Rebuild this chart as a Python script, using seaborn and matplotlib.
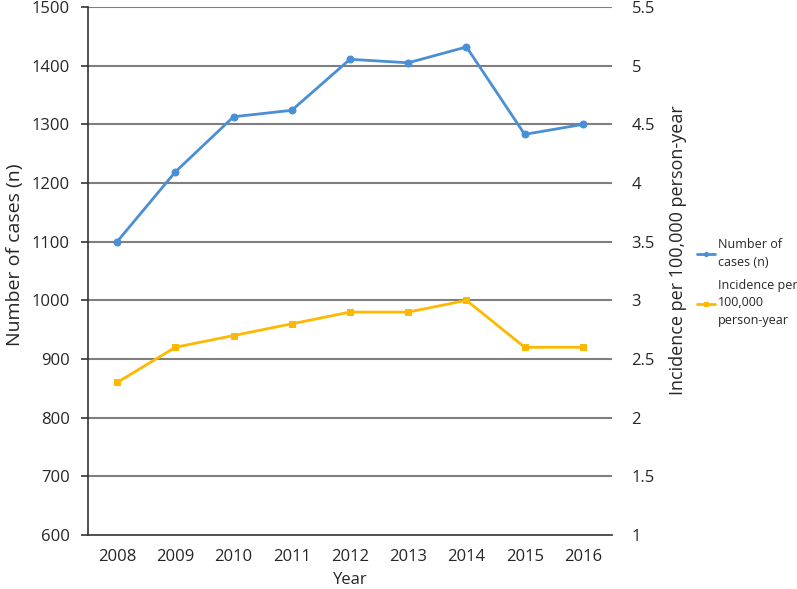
import numpy as np
import pandas as pd
import matplotlib
matplotlib.use('Agg')
import matplotlib.pyplot as plt
import seaborn as sns
from matplotlib.ticker import FixedLocator

years = ['2008', '2009', '2010', '2011', '2012', '2013', '2014', '2015', '2016']
cases = [1100, 1219, 1313, 1324, 1411, 1405, 1432, 1283, 1300]
incidence = [2.3, 2.6, 2.7, 2.8, 2.9, 2.9, 3.0, 2.6, 2.6]
left_ticks = [600, 700, 800, 900, 1000, 1100, 1200, 1300, 1400, 1500]
right_ticks = [1, 1.5, 2, 2.5, 3, 3.5, 4, 4.5, 5, 5.5]
right_labels = ['1', '1.5', '2', '2.5', '3', '3.5', '4', '4.5', '5', '5.5']

df = pd.DataFrame({'pos': np.arange(len(years)), 'year': years,
                   'cases': cases, 'incidence': incidence})

sns.set_style('white')
plt.rcParams['font.family'] = ['Open Sans', 'DejaVu Sans']

blue = '#4A8FD6'
gold = '#FFB800'
grid_c = '#7f7f7f'

fig = plt.figure(figsize=(7.97, 5.89), dpi=100)
ax = fig.add_axes([0.1104, 0.0917, 0.6575, 0.8963])
ax2 = ax.twinx()

ax.set_ylim(600, 1500)
ax2.set_ylim(1, 5.5)
ax.set_xlim(-0.5, len(years) - 0.5)

for y in left_ticks[1:]:
    ax.axhline(y, color=grid_c, lw=1.5, zorder=0)

sns.lineplot(data=df, x='pos', y='cases', ax=ax, color=blue, lw=2,
             marker='o', markersize=5, markeredgecolor=blue, label='Number of\ncases (n)',
             legend=False, zorder=3)
sns.lineplot(data=df, x='pos', y='incidence', ax=ax2, color=gold, lw=2,
             marker='s', markersize=5, markeredgecolor=gold, label='Incidence per\n100,000\nperson-year',
             legend=False, zorder=3)

ax.set_yticks(left_ticks)
ax.set_yticklabels([str(t) for t in left_ticks], fontsize=12)
ax2.set_yticks(right_ticks)
ax2.set_yticklabels(right_labels, fontsize=12)

ax.set_xticks(df['pos'])
ax.set_xticklabels(years, fontsize=12)
ax.xaxis.set_minor_locator(FixedLocator(np.arange(-0.5, len(years), 1.0)))
ax.tick_params(axis='x', which='major', length=0, pad=10)
ax.tick_params(axis='x', which='minor', length=5, direction='out', color='#333333', width=1.2)
ax.tick_params(axis='y', length=5, direction='out', color='#333333', width=1.2, pad=8)
ax2.tick_params(axis='y', length=0, pad=14)

for a in (ax, ax2):
    for s in ('top', 'right'):
        a.spines[s].set_visible(False)
ax2.spines['left'].set_visible(False)
ax2.spines['bottom'].set_visible(False)
ax.spines['left'].set_color('#333333')
ax.spines['left'].set_linewidth(1.2)
ax.spines['bottom'].set_color('#333333')
ax.spines['bottom'].set_linewidth(1.2)

ax.set_xlabel('Year', fontsize=12, labelpad=5)
ax.set_ylabel('Number of cases (n)', fontsize=14)
ax.yaxis.set_label_coords(-0.123, 0.53)
ax2.set_ylabel('Incidence per 100,000 person-year', fontsize=13)
ax2.yaxis.set_label_coords(1.108, 0.54)

h1, l1 = ax.get_legend_handles_labels()
h2, l2 = ax2.get_legend_handles_labels()
leg = fig.legend(h1 + h2, l1 + l2, loc='center left', bbox_to_anchor=(0.86, 0.52),
                 frameon=False, fontsize=9, handlelength=1.5, handletextpad=0.2,
                 labelspacing=0.8, markerscale=0.6)
for t in leg.get_texts():
    t.set_linespacing(1.45)

fig.savefig('out.png', dpi=100)
